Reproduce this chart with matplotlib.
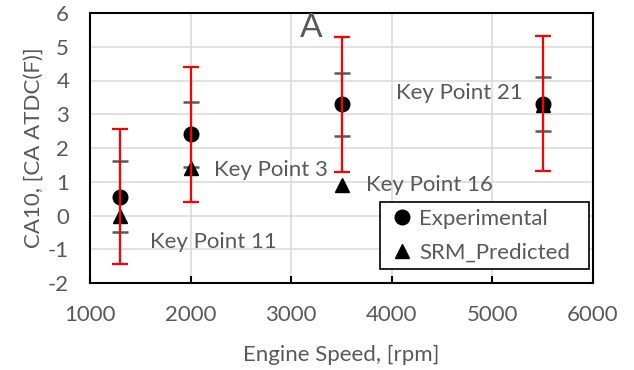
import matplotlib
matplotlib.use("Agg")
import matplotlib.pyplot as plt

plt.rcParams['font.family'] = ['Lato', 'DejaVu Sans']
plt.rcParams['axes.unicode_minus'] = False

# Engine speed (rpm) of each key point
speed = [1300, 2000, 3500, 5500]
# Measured CA10 and model prediction
experimental = [0.56, 2.41, 3.29, 3.31]
srm_predicted = [0.0, 1.40, 0.90, 3.26]
# Cycle-to-cycle standard deviation and full min/max spread
exp_std = [1.06, 0.96, 0.93, 0.80]
exp_spread = [2.0, 2.0, 2.0, 2.0]

key_labels = ["Key Point 11", "Key Point 3", "Key Point 16", "Key Point 21"]
label_pos = [(1600, -0.8), (2230, 1.35), (3740, 0.9), (4040, 3.64)]

text_col = "#595959"
grid_col = "#d9d9d9"

fig = plt.figure(figsize=(6.34, 3.70), dpi=100)
ax = fig.add_axes([90/634, 1-283/370, 503/634, 270/370])

ax.set_xlim(1000, 6000)
ax.set_ylim(-2, 6)
ax.set_xticks(range(1000, 6001, 1000))
ax.set_yticks(range(-2, 7, 1))
ax.grid(True, color=grid_col, lw=1.1, zorder=0)
ax.set_axisbelow(True)

for s in ax.spines.values():
    s.set_color("black")
    s.set_linewidth(1.5)

ax.tick_params(axis='x', direction='in', length=5, width=1.5, color='black',
               labelsize=16, labelcolor=text_col, pad=16)
ax.tick_params(axis='y', length=0, labelsize=16, labelcolor=text_col, pad=15)

# standard deviation bars (caps only visible)
ax.errorbar(speed, experimental, yerr=exp_std, fmt='none', ecolor=text_col,
            elinewidth=1.5, capsize=6, capthick=1.8, zorder=2)

ax.plot(speed, experimental, 'o', color='black', markersize=10.5,
        label='Experimental', zorder=3)
ax.plot(speed, srm_predicted, '^', color='black', markersize=10.5,
        label='SRM_Predicted', zorder=3)

# min/max spread bars drawn over the markers
ax.errorbar(speed, experimental, yerr=exp_spread, fmt='none', ecolor='red',
            elinewidth=1.6, capsize=6, capthick=1.6, zorder=4)

for lab, (x, y) in zip(key_labels, label_pos):
    ax.text(x, y, lab, fontsize=16, color=text_col, ha='left', va='center', zorder=5)

ax.text(3200, 5.55, "A", fontsize=24, color=text_col, ha='center', va='center')

ax.set_xlabel("Engine Speed, [rpm]", fontsize=16, color=text_col, labelpad=14)
ax.set_ylabel("CA10, [CA ATDC(F)]", fontsize=16, color=text_col, labelpad=3)

leg = ax.legend(loc='lower left', bbox_to_anchor=(0.5765, 0.052, 0.4155, 0.2),
                mode='expand', fontsize=16,
                frameon=True, fancybox=False, framealpha=1, edgecolor='black',
                handlelength=1.4, handletextpad=0.05, borderpad=0.3,
                labelspacing=0.6, borderaxespad=0)
leg.get_frame().set_linewidth(1.2)
for t in leg.get_texts():
    t.set_color(text_col)

fig.savefig("out.png", dpi=100)
